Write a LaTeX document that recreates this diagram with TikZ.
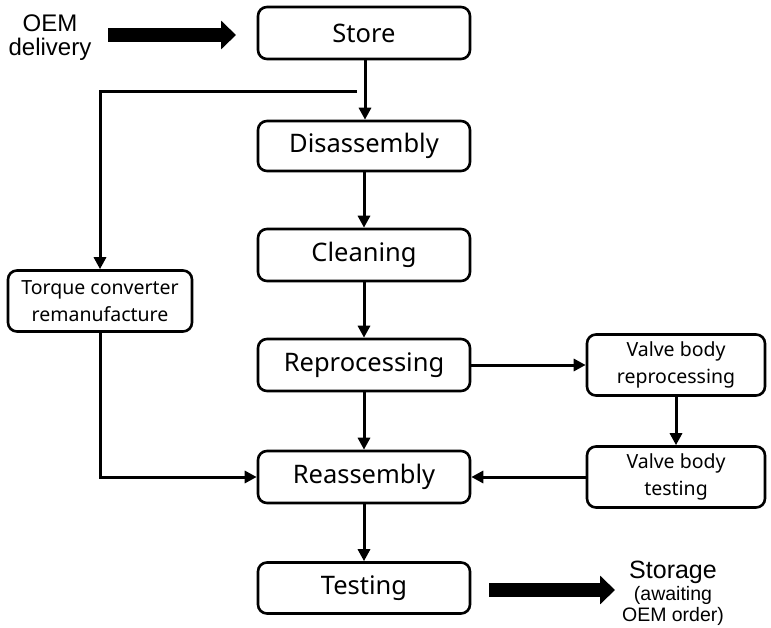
\documentclass[tikz,border=0pt]{standalone}
\usepackage{fontspec}
\setmainfont{Noto Sans}
\newfontfamily\labelfont{Liberation Sans}
\usetikzlibrary{arrows.meta}
\begin{document}
\begin{tikzpicture}[x=1pt,y=-1pt,
  stepbox/.style={draw,line width=2.6pt,rounded corners=9pt,align=center,
    inner sep=0pt,minimum width=212pt,minimum height=52pt,font=\fontsize{25.5}{28}\selectfont},
  sidebox/.style={draw,line width=2.6pt,rounded corners=9pt,align=center,
    inner sep=0pt,minimum height=61pt,font=\fontsize{19.5}{27}\selectfont},
  flow/.style={line width=3pt,-{Triangle[length=12pt,width=12pt]}},
  fat/.style={line width=14pt,-{Triangle[length=15pt,width=28pt]}},
  outlabel/.style={align=center,inner sep=0pt}]
\useasboundingbox (0,0) rectangle (771,628);

% main process column
\node[stepbox] (store) at (364,33) {Store};
\node[stepbox,minimum height=50pt] (disasm) at (364,146) {Disassembly};
\node[stepbox] (clean) at (364,255) {Cleaning};
\node[stepbox] (reproc) at (364,365) {Reprocessing};
\node[stepbox] (reasm) at (364,477) {Reassembly};
\node[stepbox,minimum height=51pt] (test) at (364,588) {Testing};

% side branches
\node[sidebox,minimum width=184pt] (torque) at (100,301) {Torque converter\\remanufacture};
\node[sidebox,minimum width=178pt] (vbrep) at (676,365) {Valve body\\reprocessing};
\node[sidebox,minimum width=178pt] (vbtest) at (676,477) {Valve body\\testing};

% incoming and outgoing labels
\node[outlabel,font=\labelfont\fontsize{24}{24}\selectfont] (oem) at (50,38) {OEM\\delivery};
\node[outlabel,font=\labelfont\fontsize{19.5}{22}\selectfont] (storage) at (673,593)
  {{\fontsize{25}{24}\selectfont Storage}\\[0pt]
   (awaiting\\[-1pt]OEM order)};

\coordinate (oemfrom) at (108,35);
\coordinate (oemto) at (236,35);
\coordinate (stofrom) at (489,590);
\coordinate (stoto) at (615,590);
\coordinate (split) at (357,92);

% fat delivery arrows
\draw[fat] (oemfrom) -- (oemto);
\draw[fat] (stofrom) -- (stoto);

% main flow
\draw[flow] (store.south -| 365,0) -- (disasm.north -| 365,0);
\draw[flow] (disasm) -- (clean);
\draw[flow] (clean) -- (reproc);
\draw[flow] (reproc) -- (reasm);
\draw[flow] (reasm) -- (test);

% torque converter loop
\draw[flow] (split) -- (split -| torque.north) -- (torque.north);
\draw[flow] (torque.south) |- (reasm.west);

% valve body loop
\draw[flow] (reproc.east) -- (vbrep.west);
\draw[flow] (vbrep) -- (vbtest);
\draw[flow] (vbtest.west) -- (reasm.east);
\end{tikzpicture}
\end{document}
